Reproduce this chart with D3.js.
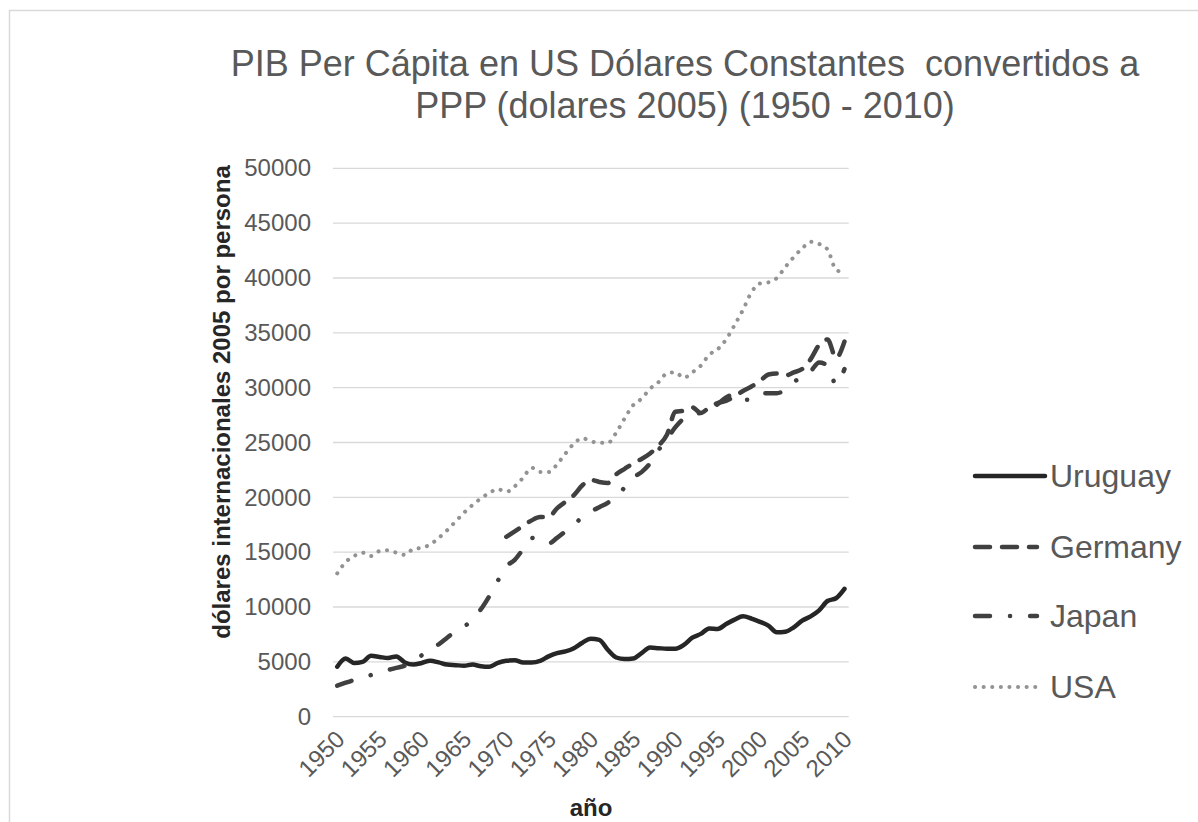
<!DOCTYPE html>
<html>
<head>
<meta charset="utf-8">
<script src="https://cdn.jsdelivr.net/npm/d3@7"></script>
<style>
  body { margin: 0; background: #fff; }
  svg { display: block; font-family: "Liberation Sans", Arial, sans-serif; }
</style>
</head>
<body>
<svg width="1198" height="822"></svg>
<script>
// years on the category axis
const years = [1950, 1951, 1952, 1953, 1954, 1955, 1956, 1957, 1958, 1959,
  1960, 1961, 1962, 1963, 1964, 1965, 1966, 1967, 1968, 1969,
  1970, 1971, 1972, 1973, 1974, 1975, 1976, 1977, 1978, 1979,
  1980, 1981, 1982, 1983, 1984, 1985, 1986, 1987, 1988, 1989,
  1990, 1991, 1992, 1993, 1994, 1995, 1996, 1997, 1998, 1999,
  2000, 2001, 2002, 2003, 2004, 2005, 2006, 2007, 2008, 2009, 2010];
const tickYears = [1950, 1955, 1960, 1965, 1970, 1975, 1980, 1985, 1990, 1995, 2000, 2005, 2010];
const yTicks = [0, 5000, 10000, 15000, 20000, 25000, 30000, 35000, 40000, 45000, 50000];

const uruguay = [4560, 5300, 4900, 5000, 5550, 5450, 5350, 5500, 4950, 4750,
  4900, 5100, 4950, 4750, 4700, 4650, 4750, 4600, 4550, 4900,
  5100, 5150, 4950, 4950, 5100, 5500, 5800, 5950, 6250, 6750,
  7100, 7000, 6100, 5400, 5250, 5300, 5800, 6300, 6250, 6200,
  6200, 6550, 7200, 7550, 8050, 8000, 8450, 8850, 9150, 8950,
  8650, 8300, 7700, 7750, 8150, 8750, 9150, 9700, 10550, 10800, 11650];

const germany = [null, null, null, null, null, null, null, null, null, null,
  null, null, null, null, null, null, null, null, null, null,
  16400, 16900, 17400, 17900, 18200, 18200, 19000, 19600, 20200, 21100,
  21600, 21400, 21300, 22100, 22600, 23100, 23500, 24000, 24700, 25700,
  27800, 27900, 28200, 27700, 28200, 28600, 28800, 29200, 29700, 30100,
  30600, 31200, 31300, 31100, 31400, 31700, 32600, 33900, 34400, 32700, 34200];

const japan = [2830, 3100, 3350, 3550, 3800, 4000, 4250, 4450, 4650, 5000,
  5600, 6200, 6600, 7200, 7800, 8200, 8900, 9800, 11000, 12400,
  13700, 14300, 15300, 16300, 15900, 15800, 16300, 16900, 17500, 18200,
  18700, 19100, 19500, 20100, 20900, 21800, 22300, 23100, 24300, 25300,
  26400, 27200, 27600, 27700, 28000, 28500, 29100, 29400, 28900, 28900,
  29400, 29500, 29500, 29800, 30500, 31000, 31500, 32300, 32000, 30300, 31700];

const usa = [13070, 14100, 14650, 14950, 14650, 15100, 15170, 14950, 14750, 15300,
  15400, 15700, 16300, 17000, 17800, 18600, 19300, 19900, 20400, 20750,
  20500, 21000, 21800, 22700, 22300, 22300, 23000, 24000, 24900, 25400,
  25100, 25000, 24950, 25900, 27200, 28400, 29000, 29900, 30500, 31300,
  31400, 30900, 31400, 32000, 33000, 33500, 34400, 35700, 37100, 38700,
  39500, 39600, 40000, 41000, 41900, 42700, 43300, 43100, 42600, 40750, 40500];

const seriesNames = ["Uruguay", "Germany", "Japan", "USA"];
const seriesValues = [uruguay, germany, japan, usa];

// styles per series
const styles = [
  { color: "#262626", dash: null, width: 4.5 },
  { color: "#404040", dash: "15,12", width: 4.5 },
  { color: "#404040", dash: "15,20,0.1,20", width: 4.5 },
  { color: "#939393", dash: "0.1,8.5", width: 4 }
];

const svg = d3.select("svg");

// outer chart border
svg.append("rect")
  .attr("x", 9.5).attr("y", 10.5)
  .attr("width", 1220).attr("height", 840)
  .attr("fill", "none")
  .attr("stroke", "#d9d9d9")
  .attr("stroke-width", 1.5);

// title
const title = svg.append("text")
  .attr("text-anchor", "middle")
  .attr("fill", "#595959")
  .style("font-size", "36px")
  .style("white-space", "pre");
title.append("tspan").attr("x", 685).attr("y", 76).text("PIB Per Cápita en US Dólares Constantes  convertidos a");
title.append("tspan").attr("x", 685).attr("y", 118).text("PPP (dolares 2005) (1950 - 2010)");

const plotLeft = 333, plotRight = 848.7, plotTop = 168.3, plotBottom = 716.7;

const x = d3.scalePoint()
  .domain(years)
  .range([plotLeft, plotRight])
  .padding(0.5);

const y = d3.scaleLinear()
  .domain([0, 50000])
  .range([plotBottom, plotTop]);

// gridlines
svg.append("g")
  .selectAll("line")
  .data(yTicks)
  .join("line")
  .attr("x1", plotLeft).attr("x2", plotRight)
  .attr("y1", d => y(d)).attr("y2", d => y(d))
  .attr("stroke", "#d9d9d9")
  .attr("stroke-width", 1.3);

// y axis labels
const yAxis = svg.append("g")
  .attr("transform", `translate(${plotLeft - 22},0)`)
  .call(d3.axisLeft(y).tickValues(yTicks).tickSize(0).tickPadding(0).tickFormat(d3.format("d")));
yAxis.select(".domain").remove();
yAxis.selectAll("text")
  .attr("fill", "#595959")
  .style("font-size", "24px")
  .style("font-family", "'Liberation Sans', Arial, sans-serif");

// x axis labels
svg.append("g")
  .selectAll("text")
  .data(tickYears)
  .join("text")
  .attr("transform", d => `translate(${x(d) + 9},${plotBottom + 24}) rotate(-45)`)
  .attr("text-anchor", "end")
  .attr("fill", "#595959")
  .style("font-size", "24px")
  .text(d => d);

// axis titles
svg.append("text")
  .attr("transform", "translate(230,402) rotate(-90)")
  .attr("text-anchor", "middle")
  .attr("fill", "#262626")
  .style("font-size", "24px")
  .style("font-weight", "bold")
  .text("dólares internacionales 2005 por persona");

svg.append("text")
  .attr("x", 591).attr("y", 816)
  .attr("text-anchor", "middle")
  .attr("fill", "#262626")
  .style("font-size", "24px")
  .style("font-weight", "bold")
  .text("año");

// series lines
const line = d3.line()
  .defined(d => d.v !== null)
  .x(d => x(d.year))
  .y(d => y(d.v))
  .curve(d3.curveMonotoneX);

seriesValues.forEach((vals, i) => {
  const pts = years.map((yr, j) => ({ year: yr, v: vals[j] }));
  const s = styles[i];
  svg.append("path")
    .datum(pts)
    .attr("d", line)
    .attr("fill", "none")
    .attr("stroke", s.color)
    .attr("stroke-width", s.width)
    .attr("stroke-linecap", "round")
    .attr("stroke-linejoin", "round")
    .attr("stroke-dasharray", s.dash);
});

// legend
const legendY = [476, 547, 616, 687];
const legend = svg.append("g");
seriesNames.forEach((name, i) => {
  const s = styles[i];
  legend.append("line")
    .attr("x1", 975).attr("x2", i === 0 ? 1045 : 1037)
    .attr("y1", legendY[i]).attr("y2", legendY[i])
    .attr("stroke", s.color)
    .attr("stroke-width", s.width)
    .attr("stroke-linecap", "round")
    .attr("stroke-dasharray", s.dash);
  legend.append("text")
    .attr("x", 1050)
    .attr("y", legendY[i])
    .attr("dy", "0.35em")
    .attr("fill", "#595959")
    .style("font-size", "32px")
    .text(name);
});
</script>
</body>
</html>
